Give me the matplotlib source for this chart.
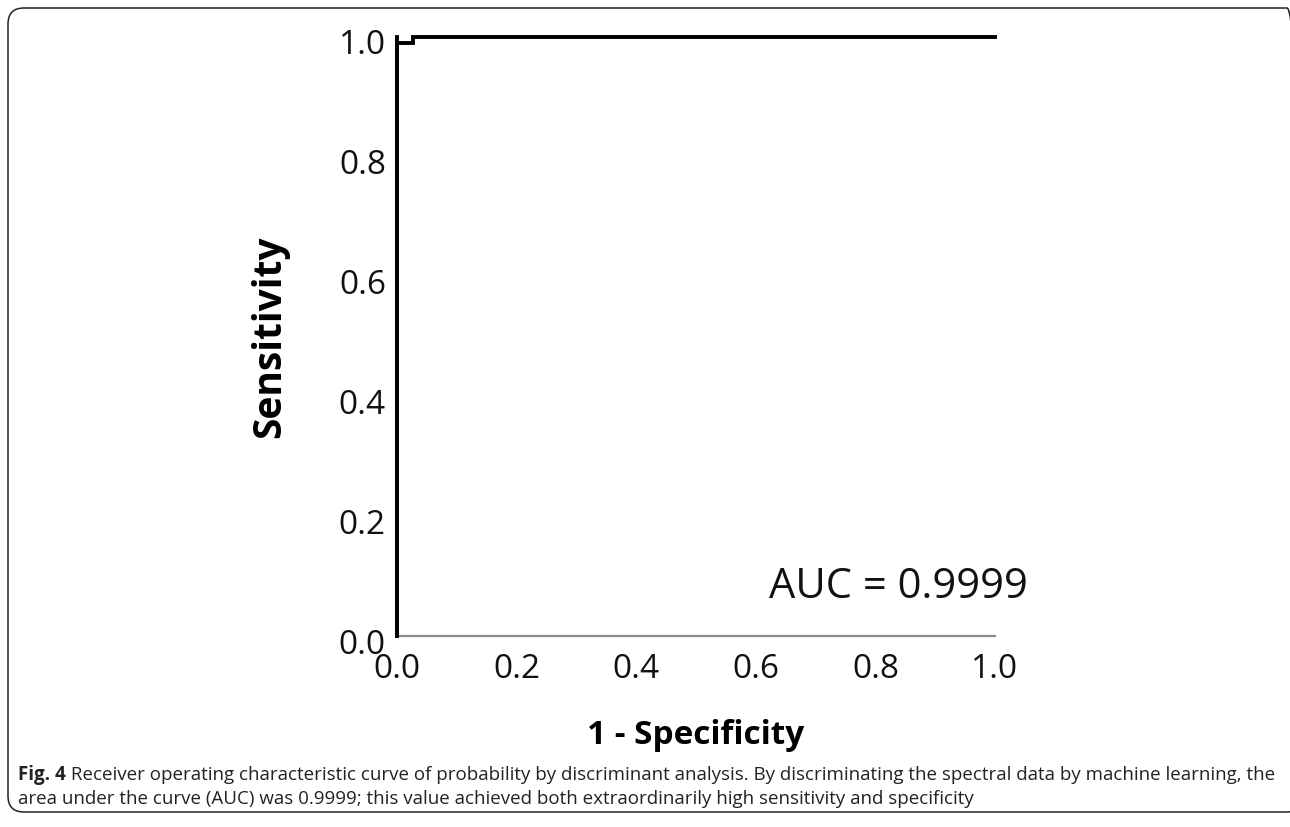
import matplotlib
matplotlib.use("Agg")
import matplotlib.pyplot as plt
import matplotlib.transforms as mtransforms
from matplotlib import font_manager
from matplotlib.patches import FancyBboxPatch

# ROC curve
fpr = [0.0, 0.0, 0.027, 0.027, 1.0]
tpr = [0.0, 0.99, 0.99, 1.0, 1.0]
ticks = [0.0, 0.2, 0.4, 0.6, 0.8, 1.0]
tick_labels = ["0.0", "0.2", "0.4", "0.6", "0.8", "1.0"]
auc_text = "AUC = 0.9999"
x_label = "1 - Specificity"
y_label = "Sensitivity"
caption_bold = "Fig. 4"
caption_1 = (" Receiver operating characteristic curve of probability by discriminant analysis. "
             "By discriminating the spectral data by machine learning, the")
caption_2 = ("area under the curve (AUC) was 0.9999; this value achieved both extraordinarily "
             "high sensitivity and specificity")

W, H = 1290, 827


def pick_font(names):
    have = {f.name for f in font_manager.fontManager.ttflist}
    for n in names:
        if n in have:
            return n
    return "DejaVu Sans"


main_font = pick_font(["Open Sans", "Noto Sans", "DejaVu Sans"])
cap_font = pick_font(["Liberation Sans Narrow", "Open Sans", "DejaVu Sans"])
plt.rcParams["font.family"] = main_font

fig = plt.figure(figsize=(W / 100, H / 100), dpi=100)

# frame round the figure + caption
frame = FancyBboxPatch((0.08, 0.15), 12.95, 8.04,
                       boxstyle="round,pad=0,rounding_size=0.16",
                       transform=fig.dpi_scale_trans, fill=False,
                       edgecolor="#222222", linewidth=1.1)
fig.patches.append(frame)

ax = fig.add_axes([397 / W, 1 - 636 / H, (995 - 397) / W, (636 - 37) / H])
ax.plot(fpr, tpr, color="black", linewidth=2.8, clip_on=False,
        solid_joinstyle="miter", zorder=5)
ax.set_xlim(0, 1)
ax.set_ylim(0, 1)
for s in ["top", "right"]:
    ax.spines[s].set_visible(False)
ax.spines["bottom"].set_color("#8a8a8a")
ax.spines["bottom"].set_linewidth(1.6)
ax.spines["left"].set_color("black")
ax.spines["left"].set_linewidth(2.8)
ax.set_xticks(ticks)
ax.set_xticklabels(tick_labels)
ax.set_yticks(ticks)
ax.set_yticklabels(tick_labels)
ax.tick_params(length=0, labelsize=24, colors="#111111")
ax.tick_params(axis="x", pad=12)
ax.tick_params(axis="y", pad=8)
shift = mtransforms.ScaledTranslation(0, -5 / 100, fig.dpi_scale_trans)
for lab in ax.get_yticklabels():
    lab.set_transform(lab.get_transform() + shift)
ax.set_xlabel(x_label, fontsize=24, fontweight="bold", labelpad=24)
ax.set_ylabel(y_label, fontsize=28, fontweight="bold", labelpad=36)

ax.text(0.839, 0.063, auc_text, fontsize=30, ha="center", va="baseline",
        color="#111111")

# caption, sized so the first line runs from x=18 to x=1278
fig.canvas.draw()
r = fig.canvas.get_renderer()
size = 14.5
t1 = fig.text(18 / W, 1 - 780 / H, caption_bold, fontsize=size, fontweight="bold",
              family=cap_font, va="baseline", color="#222222")
t2 = fig.text(0, 1 - 780 / H, caption_1, fontsize=size,
              family=cap_font, va="baseline", color="#222222")
t3 = fig.text(18 / W, 1 - 804 / H, caption_2, fontsize=size,
              family=cap_font, va="baseline", color="#222222")
w = t1.get_window_extent(r).width + t2.get_window_extent(r).width
size = size * (1278 - 18) / w
for t in (t1, t2, t3):
    t.set_fontsize(size)
bb = t1.get_window_extent(r)
t2.set_x(bb.x1 / W)

fig.savefig("out.png", dpi=100)
